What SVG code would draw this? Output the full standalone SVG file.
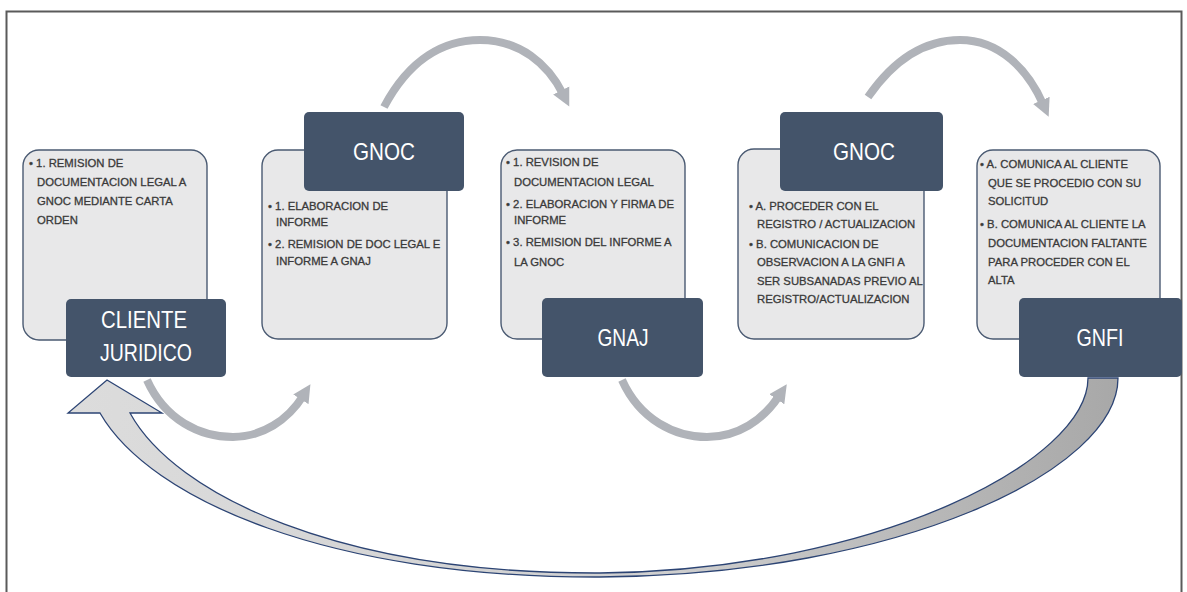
<svg xmlns="http://www.w3.org/2000/svg" width="1187" height="592" viewBox="0 0 1187 592">
<style>
.panel{fill:#e8e8e9;stroke:#4a5a72;stroke-width:1.4}
.head{fill:#44546a}
.ht{font-family:"Liberation Sans",Arial,sans-serif;font-size:24px;fill:#ffffff;text-anchor:middle}
.bt{font-family:"Liberation Sans",Arial,sans-serif;font-size:11.3px;fill:#3a3a3a;stroke:#3a3a3a;stroke-width:0.3}
.flow{fill:none;stroke:#b0b3b9;stroke-width:8}
</style>
<defs>
<marker id="ah" markerUnits="userSpaceOnUse" markerWidth="20" markerHeight="20" viewBox="0 0 20 20" refX="4" refY="10" orient="auto">
<path d="M0,1 L18,10 L0,19 Z" fill="#b0b3b9"/>
</marker>
<linearGradient id="rg" x1="0" y1="0" x2="1" y2="0">
<stop offset="0" stop-color="#dcdcdc"/>
<stop offset="0.55" stop-color="#d0d0d0"/>
<stop offset="1" stop-color="#a8a8a8"/>
</linearGradient>
</defs>
<rect x="6.5" y="11.5" width="1175" height="600" fill="#ffffff" stroke="#5a5a5a" stroke-width="2"/>

<g id="connectors">
<path class="flow" d="M147,380 C165,420 200,437 233,437 C262,437 288,420 303,396" marker-end="url(#ah)"/>
<path class="flow" d="M384,107 C410,58 445,40 480,40 C520,40 548,64 563,94" marker-end="url(#ah)"/>
<path class="flow" d="M622,380 C640,420 675,437 707,437 C738,437 763,420 779,396" marker-end="url(#ah)"/>
<path class="flow" d="M868,97 C895,58 925,40 960,40 C1000,40 1028,70 1043,104" marker-end="url(#ah)"/>
<path id="return" d="M1088,378 L1118,378 C1118,470 900,575 600,577 C330,578 150,500 100,413 L68,413 L107,380 L162,413 L130,413 C175,495 340,574 600,573 C880,570 1088,460 1088,378 Z" fill="url(#rg)" stroke="#2c4474" stroke-width="1.3" stroke-linejoin="miter"/>
</g>

<g id="n1">
<rect class="panel" x="23" y="150" width="184" height="190" rx="16"/>
<text class="bt" x="29" y="167">• 1. REMISION DE</text>
<text class="bt" x="37" y="186">DOCUMENTACION LEGAL A</text>
<text class="bt" x="37" y="205">GNOC MEDIANTE CARTA</text>
<text class="bt" x="37" y="224">ORDEN</text>
</g>
<g id="n1h">
<rect class="head" x="66" y="299" width="160" height="78" rx="5"/>
<text class="ht" x="144" y="328" textLength="86" lengthAdjust="spacingAndGlyphs">CLIENTE</text>
<text class="ht" x="146" y="361" textLength="92" lengthAdjust="spacingAndGlyphs">JURIDICO</text>
</g>

<g id="n2">
<rect class="panel" x="262" y="150" width="185" height="189" rx="16"/>
<rect class="head" x="304" y="112" width="160" height="79" rx="5"/>
<text class="ht" x="384" y="160" textLength="62" lengthAdjust="spacingAndGlyphs">GNOC</text>
<text class="bt" x="268" y="210">• 1. ELABORACION DE</text>
<text class="bt" x="276" y="226">INFORME</text>
<text class="bt" x="268" y="248">• 2. REMISION DE DOC LEGAL E</text>
<text class="bt" x="276" y="265">INFORME A GNAJ</text>
</g>

<g id="n3">
<rect class="panel" x="501" y="150" width="184" height="189" rx="16"/>
<text class="bt" x="506" y="166">• 1. REVISION DE</text>
<text class="bt" x="514" y="186">DOCUMENTACION LEGAL</text>
<text class="bt" x="506" y="208">• 2. ELABORACION Y FIRMA DE</text>
<text class="bt" x="514" y="224">INFORME</text>
<text class="bt" x="506" y="246">• 3. REMISION DEL INFORME A</text>
<text class="bt" x="514" y="266">LA GNOC</text>
<rect class="head" x="542" y="298" width="161" height="79" rx="5"/>
<text class="ht" x="623" y="346" textLength="51" lengthAdjust="spacingAndGlyphs">GNAJ</text>
</g>

<g id="n4">
<rect class="panel" x="738" y="149" width="186" height="190" rx="16"/>
<rect class="head" x="780" y="112" width="163" height="79" rx="5"/>
<text class="ht" x="864" y="160" textLength="62" lengthAdjust="spacingAndGlyphs">GNOC</text>
<text class="bt" x="749" y="210">• A. PROCEDER CON EL</text>
<text class="bt" x="757" y="228">REGISTRO / ACTUALIZACION</text>
<text class="bt" x="749" y="248">• B. COMUNICACION DE</text>
<text class="bt" x="757" y="266">OBSERVACION A LA GNFI A</text>
<text class="bt" x="757" y="285">SER SUBSANADAS PREVIO AL</text>
<text class="bt" x="757" y="303">REGISTRO/ACTUALIZACION</text>
</g>

<g id="n5">
<rect class="panel" x="977" y="150" width="183" height="189" rx="16"/>
<text class="bt" x="980" y="168">• A. COMUNICA AL CLIENTE</text>
<text class="bt" x="988" y="187">QUE SE PROCEDIO CON SU</text>
<text class="bt" x="988" y="205">SOLICITUD</text>
<text class="bt" x="980" y="228">• B. COMUNICA AL CLIENTE LA</text>
<text class="bt" x="988" y="247">DOCUMENTACION FALTANTE</text>
<text class="bt" x="988" y="266">PARA PROCEDER CON EL</text>
<text class="bt" x="988" y="284">ALTA</text>
<rect class="head" x="1019" y="298" width="163" height="79" rx="5"/>
<text class="ht" x="1100" y="346" textLength="47" lengthAdjust="spacingAndGlyphs">GNFI</text>
</g>
</svg>
